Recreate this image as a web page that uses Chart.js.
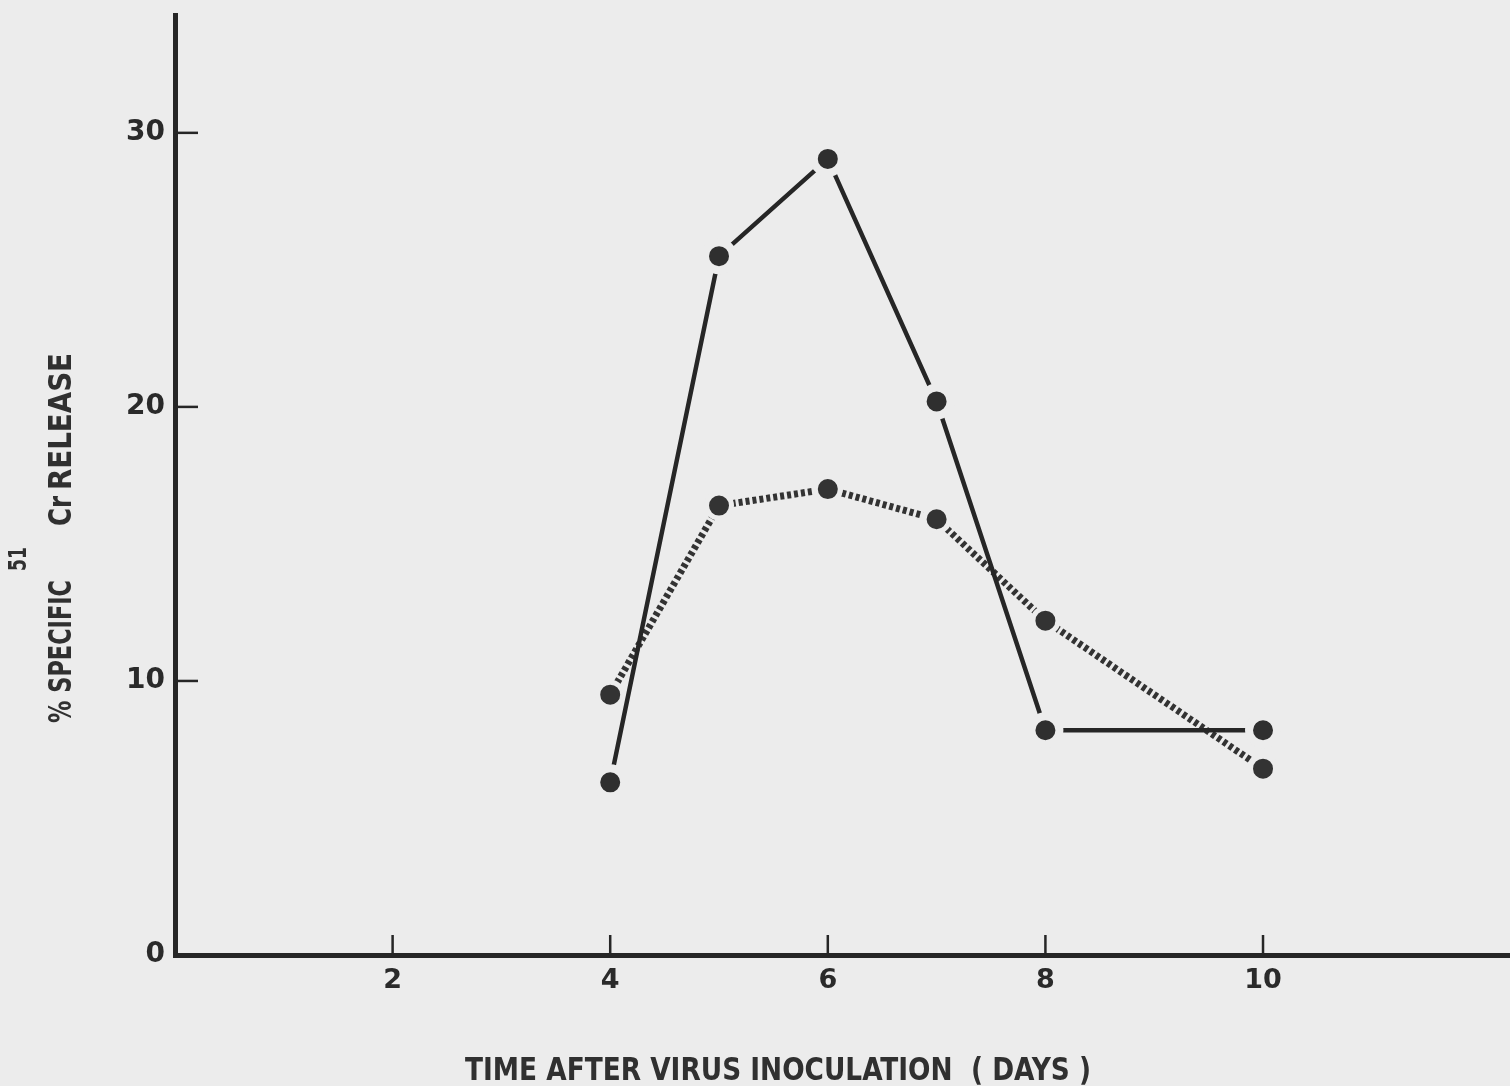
<!DOCTYPE html>
<html>
<head>
<meta charset="utf-8">
<title>Specific 51Cr release</title>
<script src="https://cdn.jsdelivr.net/npm/chart.js@4.4.1/dist/chart.umd.min.js"></script>
<style>
  html, body { margin: 0; padding: 0; background: #ececec; }
  #wrap { width: 1510px; height: 1086px; position: relative; }
</style>
</head>
<body>
<div id="wrap"><canvas id="chart1"></canvas></div>
<script>
// data
const days = [4, 5, 6, 7, 8, 10];
const solidRelease = [6.3, 25.5, 29.05, 20.2, 8.2, 8.2];
const dottedRelease = [9.5, 16.4, 17.0, 15.9, 12.2, 6.8];
const xTickLabels = [2, 4, 6, 8, 10];
const yTickLabels = [0, 10, 20, 30];

const paper = '#ececec';
const ink = '#262626';
const labelFont = '"DejaVu Sans", sans-serif';

function toPoints(xs, ys) {
    return xs.map(function (x, i) { return { x: x, y: ys[i] }; });
}

// short tick marks drawn inside the plot, plus the axis titles
const axisDecor = {
    id: 'axisDecor',
    afterDraw: function (chart) {
        const ctx = chart.ctx;
        const area = chart.chartArea;
        const xs = chart.scales.x;
        const ys = chart.scales.y;

        ctx.save();
        ctx.strokeStyle = ink;
        ctx.lineWidth = 2.5;
        yTickLabels.forEach(function (v) {
            if (v === 0) return;
            const py = ys.getPixelForValue(v);
            ctx.beginPath();
            ctx.moveTo(area.left, py);
            ctx.lineTo(area.left + 23, py);
            ctx.stroke();
        });
        xTickLabels.forEach(function (v) {
            const px = xs.getPixelForValue(v);
            ctx.beginPath();
            ctx.moveTo(px, area.bottom);
            ctx.lineTo(px, area.bottom - 20);
            ctx.stroke();
        });

        // x title
        ctx.fillStyle = '#303030';
        ctx.textBaseline = 'alphabetic';
        ctx.textAlign = 'left';
        ctx.font = 'bold 32px "DejaVu Sans Condensed", ' + labelFont;
        ctx.fillText('TIME AFTER VIRUS INOCULATION  ( DAYS )', 465, 1080, 626);

        // y title, rotated, with superscript mass number
        ctx.translate(71, 723);
        ctx.rotate(-Math.PI / 2);
        ctx.fillText('% SPECIFIC', 0, 0, 143);
        ctx.fillText('Cr', 197, 0, 30);
        ctx.fillText('RELEASE', 233, 0, 137);
        ctx.font = 'bold 24px "DejaVu Sans Condensed", ' + labelFont;
        ctx.fillText('51', 152, -45, 24);
        ctx.restore();
    }
};

const chart1 = document.getElementById('chart1').getContext('2d');
const myChart = new Chart(chart1, {
    type: 'line',
    data: {
        datasets: [{
            label: 'solid',
            data: toPoints(days, solidRelease),
            borderColor: ink,
            borderWidth: 4.5,
            pointRadius: 14,
            pointBorderWidth: 8,
            pointBorderColor: paper,
            pointBackgroundColor: '#2f2f2f',
            tension: 0
        }, {
            label: 'dotted',
            data: toPoints(days, dottedRelease),
            borderColor: '#333333',
            borderWidth: 7,
            borderDash: [4, 3],
            pointRadius: 12.5,
            pointBorderWidth: 5,
            pointBorderColor: paper,
            pointBackgroundColor: '#333333',
            tension: 0
        }]
    },
    options: {
        responsive: true,
        maintainAspectRatio: false,
        animation: false,
        layout: {
            autoPadding: false,
            padding: { top: 15, right: 0, left: 0, bottom: 0 }
        },
        plugins: {
            legend: { display: false },
            tooltip: { enabled: false }
        },
        scales: {
            x: {
                type: 'linear',
                min: 0,
                max: 12.27,
                afterBuildTicks: function (scale) {
                    scale.ticks = xTickLabels.map(function (v) { return { value: v }; });
                },
                afterFit: function (scale) {
                    scale.height = 131;
                    scale.paddingLeft = 0;
                    scale.paddingRight = 0;
                },
                grid: { display: false, drawTicks: false },
                border: { display: true, width: 5, color: ink },
                ticks: {
                    padding: 10,
                    color: '#2a2a2a',
                    font: { family: labelFont, size: 27, weight: 'bold' },
                    maxRotation: 0
                }
            },
            y: {
                type: 'linear',
                min: 0,
                max: 34.3,
                afterBuildTicks: function (scale) {
                    scale.ticks = yTickLabels.map(function (v) { return { value: v }; });
                },
                afterFit: function (scale) {
                    scale.width = 175;
                    scale.paddingTop = 0;
                    scale.paddingBottom = 0;
                },
                grid: { display: false, drawTicks: false },
                border: { display: true, width: 5, color: ink },
                ticks: {
                    padding: 10,
                    color: '#2a2a2a',
                    font: { family: labelFont, size: 28, weight: 'bold' }
                }
            }
        }
    },
    plugins: [axisDecor]
});
</script>
</body>
</html>
